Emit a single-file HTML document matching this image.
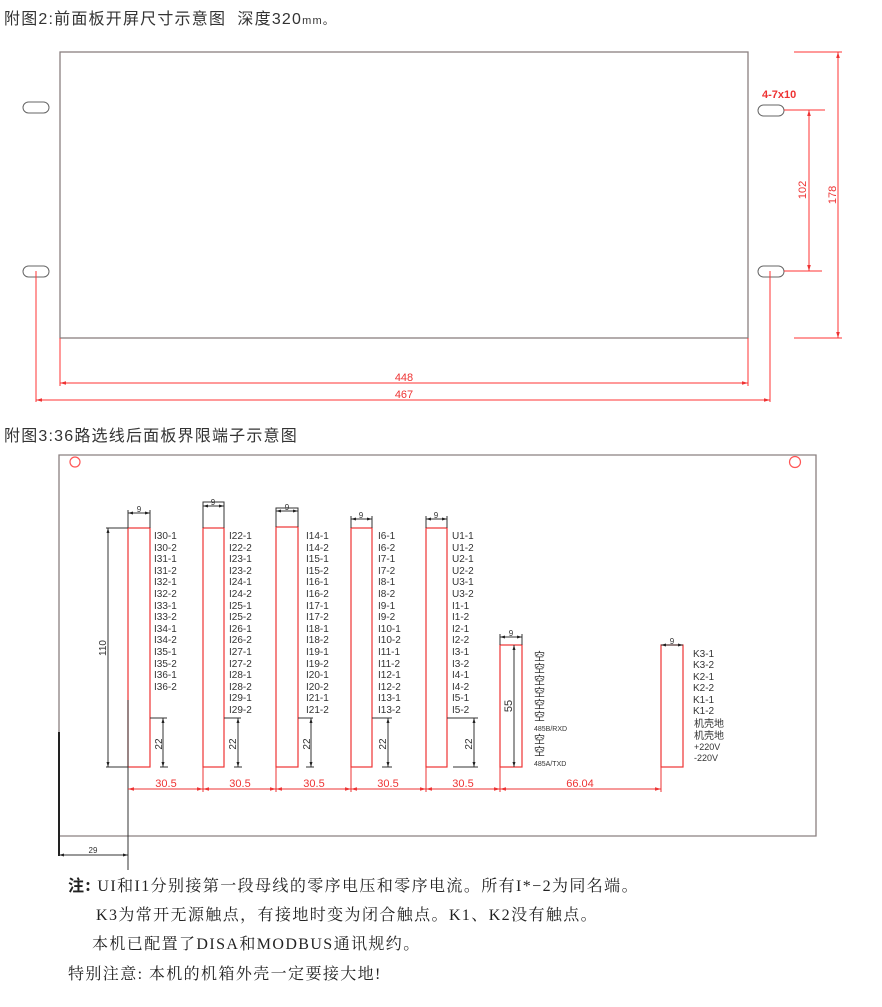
<!DOCTYPE html>
<html><head><meta charset="utf-8"><style>
html,body{margin:0;padding:0;background:#fff;width:882px;height:1007px;overflow:hidden}
svg{display:block}
.t{font-family:"Liberation Sans","Noto Sans CJK SC",sans-serif;fill:#333}
.l{font-family:"Liberation Sans","Noto Sans CJK SC",sans-serif;font-size:10px;fill:#333}
.r{fill:#e33;font-family:"Liberation Sans",sans-serif;font-size:11px}
.n{font-family:"Liberation Serif","Noto Serif CJK SC",serif;font-size:16px;fill:#222;letter-spacing:1.4px}
</style></head><body>
<svg width="882" height="1007" viewBox="0 0 882 1007" xmlns="http://www.w3.org/2000/svg">
<defs>
<marker id="a" viewBox="0 0 10 10" refX="10" refY="5" markerWidth="6" markerHeight="6" orient="auto-start-reverse"><path d="M0,2 L10,5 L0,8z" fill="#e33"/></marker>
<marker id="b" viewBox="0 0 10 10" refX="10" refY="5" markerWidth="5" markerHeight="5" orient="auto-start-reverse"><path d="M0,2 L10,5 L0,8z" fill="#222"/></marker>
</defs>
<text class="t" x="4" y="24" font-size="16" letter-spacing="1.2">附图2:前面板开屏尺寸示意图 &#160;深度320<tspan font-size="11">mm。</tspan></text>
<!-- front panel -->
<rect x="60" y="52" width="688" height="286" fill="none" stroke="#8a8080" stroke-width="1.3"/>
<g fill="none" stroke="#666" stroke-width="1">
<rect x="23" y="102" width="26" height="11" rx="5.5"/>
<rect x="23" y="266" width="26" height="11" rx="5.5"/>
<rect x="758" y="105" width="26" height="11" rx="5.5"/>
<rect x="758" y="266" width="26" height="11" rx="5.5"/>
</g>
<g stroke="#f33" stroke-width="1" fill="none">
<line x1="60" y1="338" x2="60" y2="386"/><line x1="748" y1="338" x2="748" y2="386"/>
<line x1="60" y1="383" x2="748" y2="383" marker-start="url(#a)" marker-end="url(#a)"/>
<line x1="36" y1="271" x2="36" y2="402"/><line x1="770" y1="271" x2="770" y2="402"/>
<line x1="36" y1="400" x2="770" y2="400" marker-start="url(#a)" marker-end="url(#a)"/>
<line x1="784" y1="110" x2="825" y2="110"/><line x1="784" y1="271" x2="822" y2="271"/>
<line x1="809" y1="110" x2="809" y2="271" marker-start="url(#a)" marker-end="url(#a)"/>
<line x1="794" y1="52" x2="842" y2="52"/><line x1="794" y1="338" x2="842" y2="338"/>
<line x1="838" y1="52" x2="838" y2="338" marker-start="url(#a)" marker-end="url(#a)"/>
</g>
<text class="r" x="404" y="381" text-anchor="middle" font-size="12" fill="#f55">448</text>
<text class="r" x="404" y="398" text-anchor="middle" font-size="12" fill="#f55">467</text>
<text class="r" x="762" y="98" font-weight="bold" font-size="11">4-7x10</text>
<text class="r" font-size="12" transform="translate(806,190) rotate(-90)" text-anchor="middle">102</text>
<text class="r" font-size="14" transform="translate(836,195) rotate(-90)" text-anchor="middle">178</text>

<text class="t" x="4" y="441" font-size="16" letter-spacing="1.2">附图3:36路选线后面板界限端子示意图</text>
<!-- back panel -->
<path d="M59,836 L59,455 L816,455 L816,836 Z" fill="none" stroke="#8a8080" stroke-width="1.3"/>
<line x1="59" y1="732" x2="59" y2="856" stroke="#222" stroke-width="2"/>
<circle cx="75" cy="462" r="5" fill="none" stroke="#f55" stroke-width="1.2"/>
<circle cx="795" cy="462" r="5.5" fill="none" stroke="#f55" stroke-width="1.2"/>

<g fill="none" stroke-width="1.2">
<rect x="128" y="528" width="22" height="239" stroke="#e33"/>
<rect x="203" y="528" width="21" height="239" stroke="#e33"/>
<rect x="276" y="527" width="22" height="240" stroke="#e33"/>
<rect x="351" y="528" width="21" height="239" stroke="#e33"/>
<rect x="426" y="528" width="21" height="239" stroke="#e33"/>
<rect x="500" y="645" width="22" height="122" stroke="#e33"/>
<rect x="661" y="645" width="22" height="122" stroke="#e33"/>
</g>
<g stroke="#333" stroke-width="1" fill="none">
<line x1="128" y1="700" x2="128" y2="870"/>
<path d="M203,528 V502 H224 V528"/><path d="M276,527 V508 H298 V527"/>
<line x1="128" y1="513" x2="150" y2="513" marker-start="url(#b)" marker-end="url(#b)"/>
<line x1="203" y1="506" x2="224" y2="506" marker-start="url(#b)" marker-end="url(#b)"/>
<line x1="276" y1="511" x2="298" y2="511" marker-start="url(#b)" marker-end="url(#b)"/>
<line x1="351" y1="519" x2="372" y2="519" marker-start="url(#b)" marker-end="url(#b)"/>
<line x1="426" y1="519" x2="447" y2="519" marker-start="url(#b)" marker-end="url(#b)"/>
<line x1="500" y1="637" x2="522" y2="637" marker-start="url(#b)" marker-end="url(#b)"/>
<line x1="661" y1="645" x2="683" y2="645" marker-start="url(#b)" marker-end="url(#b)"/>
<path d="M128,510V528M150,510V528M128,700V767M351,516V528M372,516V528M426,516V528M447,516V528M500,634V645M522,634V645"/>
<line x1="106" y1="528" x2="128" y2="528"/><line x1="106" y1="767" x2="128" y2="767"/>
<line x1="108" y1="528" x2="108" y2="767" marker-start="url(#b)" marker-end="url(#b)"/>
<line x1="514" y1="645" x2="514" y2="767" marker-start="url(#b)" marker-end="url(#b)"/>
<line x1="59" y1="855" x2="128" y2="855" marker-start="url(#b)" marker-end="url(#b)"/>
</g>
<g stroke="#333" stroke-width="1" fill="none">
<path d="M150,718 H167 M160,767 H168"/><line x1="163" y1="718" x2="163" y2="767" marker-start="url(#b)" marker-end="url(#b)"/>
<path d="M224,718 H241 M234,767 H242"/><line x1="238" y1="718" x2="238" y2="767" marker-start="url(#b)" marker-end="url(#b)"/>
<path d="M298,718 H313 M306,767 H314"/><line x1="311" y1="718" x2="311" y2="767" marker-start="url(#b)" marker-end="url(#b)"/>
<path d="M372,718 H392 M382,767 H392"/><line x1="388" y1="718" x2="388" y2="767" marker-start="url(#b)" marker-end="url(#b)"/>
<path d="M447,718 H478 M453,767 H478"/><line x1="474" y1="718" x2="474" y2="767" marker-start="url(#b)" marker-end="url(#b)"/>
</g>
<g class="t" font-size="10">
<text transform="translate(162,744) rotate(-90)" text-anchor="middle">22</text>
<text transform="translate(236,744) rotate(-90)" text-anchor="middle">22</text>
<text transform="translate(310,744) rotate(-90)" text-anchor="middle">22</text>
<text transform="translate(386,744) rotate(-90)" text-anchor="middle">22</text>
<text transform="translate(472,744) rotate(-90)" text-anchor="middle">22</text>
<text transform="translate(106,648) rotate(-90)" text-anchor="middle">110</text>
<text transform="translate(512,706) rotate(-90)" text-anchor="middle" font-size="11">55</text>
<text x="139" y="512" text-anchor="middle" font-size="8">9</text>
<text x="213" y="505" text-anchor="middle" font-size="8">9</text>
<text x="287" y="510" text-anchor="middle" font-size="8">9</text>
<text x="361" y="518" text-anchor="middle" font-size="8">9</text>
<text x="436" y="518" text-anchor="middle" font-size="8">9</text>
<text x="511" y="636" text-anchor="middle" font-size="8">9</text>
<text x="672" y="644" text-anchor="middle" font-size="8">9</text>
<text x="93" y="853" text-anchor="middle" font-size="8">29</text>
</g>
<!-- red bottom dims -->
<g stroke="#e33" stroke-width="1" fill="none">
<path d="M203,767V792M276,767V792M351,767V792M426,767V792M500,767V792M661,767V792"/>
<line x1="128" y1="789" x2="203" y2="789" marker-start="url(#a)" marker-end="url(#a)"/>
<line x1="203" y1="789" x2="276" y2="789" marker-start="url(#a)" marker-end="url(#a)"/>
<line x1="276" y1="789" x2="351" y2="789" marker-start="url(#a)" marker-end="url(#a)"/>
<line x1="351" y1="789" x2="426" y2="789" marker-start="url(#a)" marker-end="url(#a)"/>
<line x1="426" y1="789" x2="500" y2="789" marker-start="url(#a)" marker-end="url(#a)"/>
<line x1="500" y1="789" x2="661" y2="789" marker-start="url(#a)" marker-end="url(#a)"/>
</g>
<g class="r" font-size="9" text-anchor="middle">
<text x="166" y="787">30.5</text><text x="240" y="787">30.5</text><text x="314" y="787">30.5</text><text x="388" y="787">30.5</text><text x="463" y="787">30.5</text><text x="580" y="787">66.04</text>
</g>
<!-- labels -->
<g class="l">
<text x="154" y="539">I30-1</text><text x="154" y="551">I30-2</text><text x="154" y="562">I31-1</text><text x="154" y="574">I31-2</text><text x="154" y="585">I32-1</text><text x="154" y="597">I32-2</text><text x="154" y="609">I33-1</text><text x="154" y="620">I33-2</text><text x="154" y="632">I34-1</text><text x="154" y="643">I34-2</text><text x="154" y="655">I35-1</text><text x="154" y="667">I35-2</text><text x="154" y="678">I36-1</text><text x="154" y="690">I36-2</text>
<text x="229" y="539">I22-1</text><text x="229" y="551">I22-2</text><text x="229" y="562">I23-1</text><text x="229" y="574">I23-2</text><text x="229" y="585">I24-1</text><text x="229" y="597">I24-2</text><text x="229" y="609">I25-1</text><text x="229" y="620">I25-2</text><text x="229" y="632">I26-1</text><text x="229" y="643">I26-2</text><text x="229" y="655">I27-1</text><text x="229" y="667">I27-2</text><text x="229" y="678">I28-1</text><text x="229" y="690">I28-2</text><text x="229" y="701">I29-1</text><text x="229" y="713">I29-2</text>
<text x="306" y="539">I14-1</text><text x="306" y="551">I14-2</text><text x="306" y="562">I15-1</text><text x="306" y="574">I15-2</text><text x="306" y="585">I16-1</text><text x="306" y="597">I16-2</text><text x="306" y="609">I17-1</text><text x="306" y="620">I17-2</text><text x="306" y="632">I18-1</text><text x="306" y="643">I18-2</text><text x="306" y="655">I19-1</text><text x="306" y="667">I19-2</text><text x="306" y="678">I20-1</text><text x="306" y="690">I20-2</text><text x="306" y="701">I21-1</text><text x="306" y="713">I21-2</text>
<text x="378" y="539">I6-1</text><text x="378" y="551">I6-2</text><text x="378" y="562">I7-1</text><text x="378" y="574">I7-2</text><text x="378" y="585">I8-1</text><text x="378" y="597">I8-2</text><text x="378" y="609">I9-1</text><text x="378" y="620">I9-2</text><text x="378" y="632">I10-1</text><text x="378" y="643">I10-2</text><text x="378" y="655">I11-1</text><text x="378" y="667">I11-2</text><text x="378" y="678">I12-1</text><text x="378" y="690">I12-2</text><text x="378" y="701">I13-1</text><text x="378" y="713">I13-2</text>
<text x="452" y="539">U1-1</text><text x="452" y="551">U1-2</text><text x="452" y="562">U2-1</text><text x="452" y="574">U2-2</text><text x="452" y="585">U3-1</text><text x="452" y="597">U3-2</text><text x="452" y="609">I1-1</text><text x="452" y="620">I1-2</text><text x="452" y="632">I2-1</text><text x="452" y="643">I2-2</text><text x="452" y="655">I3-1</text><text x="452" y="667">I3-2</text><text x="452" y="678">I4-1</text><text x="452" y="690">I4-2</text><text x="452" y="701">I5-1</text><text x="452" y="713">I5-2</text>
<text x="534" y="660" font-size="11">空</text><text x="534" y="672" font-size="11">空</text><text x="534" y="684" font-size="11">空</text><text x="534" y="696" font-size="11">空</text><text x="534" y="708" font-size="11">空</text><text x="534" y="720" font-size="11">空</text>
<text x="534" y="731" font-size="7">485B/RXD</text><text x="534" y="743" font-size="11">空</text><text x="534" y="755" font-size="11">空</text><text x="534" y="766" font-size="7">485A/TXD</text>
<text x="693" y="657">K3-1</text><text x="693" y="668">K3-2</text><text x="693" y="680">K2-1</text><text x="693" y="691">K2-2</text><text x="693" y="703">K1-1</text><text x="693" y="714">K1-2</text>
<text x="694" y="727">机壳地</text><text x="694" y="739">机壳地</text><text x="694" y="750" font-size="9">+220V</text><text x="694" y="761" font-size="9">-220V</text>
</g>
<!-- notes -->
<text class="n" x="68" y="891"><tspan font-weight="bold" font-family="'Noto Sans CJK SC',sans-serif" font-size="16">注:</tspan> UI和I1分别接第一段母线的零序电压和零序电流。所有I*−2为同名端。</text>
<text class="n" x="96" y="920">K3为常开无源触点，有接地时变为闭合触点。K1、K2没有触点。</text>
<text class="n" x="92" y="949">本机已配置了DISA和MODBUS通讯规约。</text>
<text class="n" x="68" y="979" letter-spacing="2.5">特别注意: 本机的机箱外壳一定要接大地!</text>
</svg>
</body></html>
